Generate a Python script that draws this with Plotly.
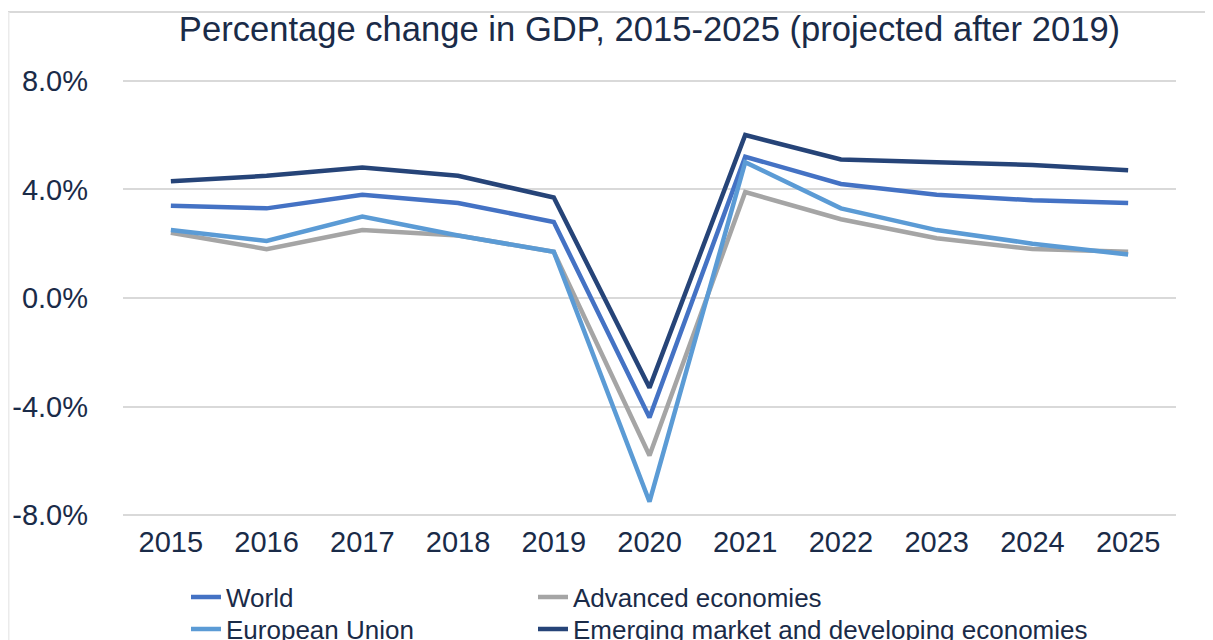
import plotly.graph_objects as go

years = ["2015", "2016", "2017", "2018", "2019", "2020", "2021", "2022", "2023", "2024", "2025"]
world = [3.4, 3.3, 3.8, 3.5, 2.8, -4.4, 5.2, 4.2, 3.8, 3.6, 3.5]
advanced = [2.4, 1.8, 2.5, 2.3, 1.7, -5.8, 3.9, 2.9, 2.2, 1.8, 1.7]
eu = [2.5, 2.1, 3.0, 2.3, 1.7, -7.5, 5.0, 3.3, 2.5, 2.0, 1.6]
emerging = [4.3, 4.5, 4.8, 4.5, 3.7, -3.3, 6.0, 5.1, 5.0, 4.9, 4.7]

y_tickvals = [-8, -4, 0, 4, 8]
y_ticktext = ["-8.0%", "-4.0%", "0.0%", "4.0%", "8.0%"]

FONT = "Liberation Sans, Arial, Helvetica, sans-serif"
TXT = "#1A2B48"

W, H = 1213, 640
ML, MR, MT, MB = 115, 45, 70, 130
PW, PH = W - ML - MR, H - MT - MB


def px(fx):
    return (fx - ML) / PW


def py(fy):
    return (H - MB - fy) / PH


# name, values, colour, legend id, legend position (container px)
series = [
    ("World", world, "#4472C4", "legend", 178, 589),
    ("Advanced economies", advanced, "#A5A5A5", "legend2", 525, 589),
    ("European Union", eu, "#5B9BD5", "legend3", 178, 621),
    ("Emerging market and developing economies", emerging, "#264478", "legend4", 525, 621),
]

fig = go.Figure()
legends = {}
for name, vals, color, lg, lx, ly in series:
    fig.add_trace(go.Scatter(
        x=years, y=vals, name=name, mode="lines",
        line=dict(color=color, width=4.5),
        legend=lg,
    ))
    legends[lg] = dict(
        orientation="h", xref="container", yref="container",
        xanchor="left", yanchor="middle",
        x=lx / W, y=1 - ly / H,
        font=dict(family=FONT, size=26, color=TXT),
        bgcolor="rgba(0,0,0,0)", borderwidth=0,
    )

fig.update_layout(
    width=W, height=H,
    paper_bgcolor="white", plot_bgcolor="white",
    margin=dict(l=ML, r=MR, t=MT, b=MB, autoexpand=False),
    title=dict(
        text="Percentage change in GDP, 2015-2025 (projected after 2019)",
        x=0.5, xref="paper", xanchor="center",
        y=1 - 21 / H, yref="container", yanchor="middle",
        font=dict(family=FONT, size=34.6, color=TXT),
    ),
    xaxis=dict(
        type="category", range=[-0.5, 10.5],
        showgrid=False, zeroline=False, showline=False, ticks="",
        ticklabelstandoff=4,
        tickfont=dict(family=FONT, size=29, color=TXT),
    ),
    yaxis=dict(
        range=[-8.1, 8.1], tickvals=y_tickvals, ticktext=y_ticktext,
        showgrid=True, gridcolor="#D9D9D9", gridwidth=2,
        zeroline=True, zerolinecolor="#D9D9D9", zerolinewidth=2,
        showline=False, ticks="", ticklabelstandoff=34,
        tickfont=dict(family=FONT, size=29, color=TXT),
    ),
    shapes=[
        dict(type="line", xref="paper", yref="paper",
             x0=px(0), x1=px(W), y0=py(4), y1=py(4),
             line=dict(color="#D9D9D9", width=2)),
        dict(type="line", xref="paper", yref="paper",
             x0=px(0.75), x1=px(0.75), y0=py(4), y1=py(H + 10),
             line=dict(color="#EBEBEB", width=1.5)),
    ],
    showlegend=True,
    **legends,
)

fig.write_html("out.html")
